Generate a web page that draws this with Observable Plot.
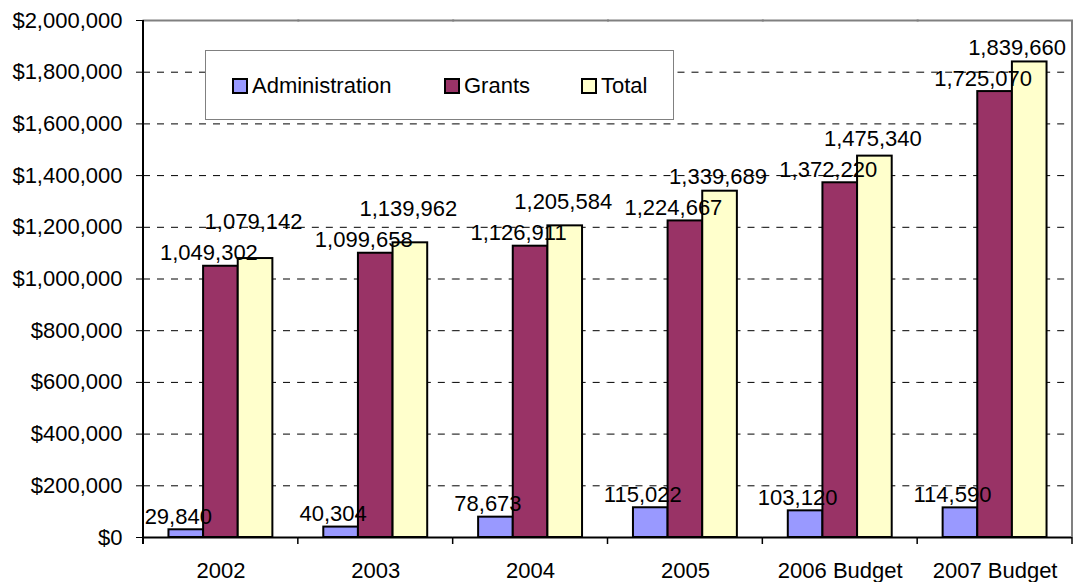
<!DOCTYPE html>
<html>
<head>
<meta charset="utf-8">
<script src="https://cdn.jsdelivr.net/npm/d3@7"></script>
<script src="https://cdn.jsdelivr.net/npm/@observablehq/plot@0.6"></script>
<style>
  html, body { margin: 0; padding: 0; background: #fff; }
  #wrap { position: relative; width: 1073px; height: 582px; font-family: 'Liberation Sans', Arial, sans-serif; }
  #legend { position: absolute; left: 205px; top: 50px; width: 467px; height: 68px; border: 1.5px solid #808080; background: #fff; }
  .item { position: absolute; top: 23px; display: flex; align-items: center; font-size: 22px; color: #000; line-height: 24px; }
  .sw { width: 12px; height: 12px; border: 2px solid #000; margin-right: 4px; }
</style>
</head>
<body>
<div id="wrap"></div>
<script>
const categories = ["2002", "2003", "2004", "2005", "2006 Budget", "2007 Budget"];
const series = ["Administration", "Grants", "Total"];
const administration = [29840, 40304, 78673, 115022, 103120, 114590];
const grants = [1049302, 1099658, 1126911, 1224667, 1372220, 1725070];
const total = [1079142, 1139962, 1205584, 1339689, 1475340, 1839660];
const colors = ["#9999FF", "#993366", "#FFFFCC"];
const yTicks = [0, 200000, 400000, 600000, 800000, 1000000, 1200000, 1400000, 1600000, 1800000, 2000000];
const gridTicks = [200000, 400000, 600000, 800000, 1000000, 1200000, 1400000, 1600000, 1800000];

const W = 1073, H = 582, mT = 20, mB = 45, mL = 143, mR = 1;
const yMax = 2000000;
const unitsPerPx = yMax / (H - mT - mB);   // y-scale units per pixel
const labelGap = 31;                        // px: Total label kept above the Grants label

const seriesValues = [administration, grants, total];
const data = categories.flatMap((c, i) =>
  series.map((s, j) => {
    const v = seriesValues[j][i];
    // simple dodge: Total label sits at least one line above the Grants label
    const ly = s === "Total" ? Math.max(v, grants[i] + labelGap * unitsPerPx) : v;
    return {category: c, series: s, value: v, labelY: ly};
  })
);
const fmt = d3.format(",");
const labelMark = (s, dx) => Plot.text(data.filter(d => d.series === s), {
  fx: "category", x: "series", y: "labelY", text: d => fmt(d.value),
  lineAnchor: "bottom", dy: -6, dx, fontSize: 22, fill: "#000"
});

const chart = Plot.plot({
  width: W,
  height: H,
  marginLeft: mL,
  marginRight: mR,
  marginTop: mT,
  marginBottom: mB,
  style: {fontFamily: "'Liberation Sans', Arial, sans-serif", fontSize: "22px", color: "#000", background: "#fff", overflow: "visible"},
  fx: {domain: categories, padding: 0, round: false, label: null, axis: null},
  x: {domain: series, paddingInner: 0, paddingOuter: 0.735, round: false, axis: null},
  y: {domain: [0, yMax], axis: null},
  color: {domain: series, range: colors},
  marks: [
    Plot.ruleY(gridTicks, {stroke: "#000", strokeWidth: 1, strokeDasharray: "7,7"}),
    Plot.frame({anchor: "top", stroke: "#808080", strokeWidth: 2}),
    Plot.barY(data, {fx: "category", x: "series", y: "value", fill: "series", stroke: "#000", strokeWidth: 2}),
    Plot.ruleY([0], {stroke: "#000", strokeWidth: 2}),
    labelMark("Administration", -8),
    labelMark("Grants", -12),
    labelMark("Total", -2),
    Plot.axisY({ticks: yTicks, tickFormat: d3.format("$,"), tickSize: 7, tickPadding: 14, label: null, fontSize: 22}),
    Plot.axisFx({anchor: "bottom", tickSize: 0, tickPadding: 25, label: null, fontSize: 22})
  ]
});

document.getElementById("wrap").appendChild(chart);

// keep value labels inside the chart (like the spreadsheet does at its right edge)
d3.select(chart).selectAll("text").each(function() {
  const r = this.getBoundingClientRect();
  const over = r.right - (W - 7);
  if (over > 0) {
    const cur = +(this.getAttribute("dx") || 0);
    this.setAttribute("dx", cur - over);
  }
});

// frame lines and category boundary ticks, positioned from Plot's own scales
const fxS = chart.scale("fx");
const yS = chart.scale("y");
const y0 = yS.apply(0), yTop = yS.apply(yMax);
const left = fxS.apply(categories[0]);
const right = fxS.apply(categories[categories.length - 1]) + fxS.bandwidth;
const g = d3.select(chart).append("g");
g.append("line").attr("x1", right).attr("x2", right).attr("y1", yTop).attr("y2", y0)
  .attr("stroke", "#808080").attr("stroke-width", 2);
g.append("line").attr("x1", left).attr("x2", left).attr("y1", yTop).attr("y2", y0 + 7)
  .attr("stroke", "#000").attr("stroke-width", 2);
const bounds = categories.map(c => fxS.apply(c)).concat([right]);
g.selectAll("line.tk").data(bounds).join("line").attr("class", "tk")
  .attr("x1", d => d).attr("x2", d => d).attr("y1", y0).attr("y2", y0 + 7)
  .attr("stroke", "#000").attr("stroke-width", 1.5);

// legend
const legend = d3.select("#wrap").append("div").attr("id", "legend");
const offsets = [26, 238, 375];
series.forEach((s, i) => {
  const it = legend.append("div").attr("class", "item").style("left", offsets[i] + "px");
  it.append("div").attr("class", "sw").style("background", colors[i]);
  it.append("span").text(s);
});
</script>
</body>
</html>
